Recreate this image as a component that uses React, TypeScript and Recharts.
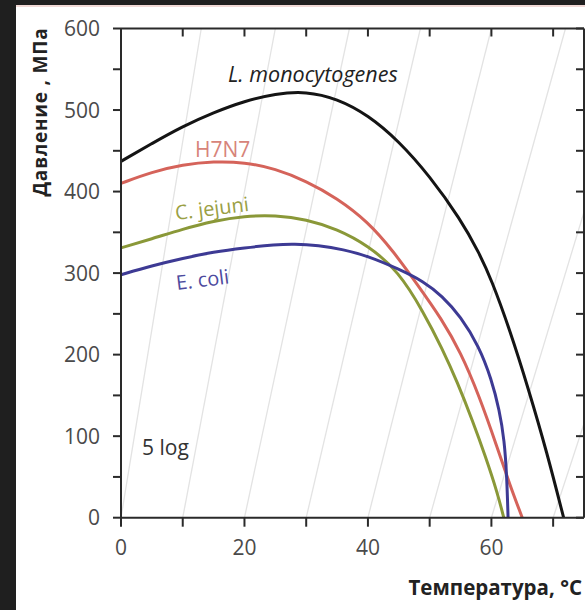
import { Line, LineChart, ReferenceLine, XAxis, YAxis } from 'recharts';

type Pt = { t: number; p: number };

// Температура, °C → давление, МПа (5 log инактивации)
const listeria: Pt[] = [
    { t: 0, p: 437 }, { t: 5, p: 459 }, { t: 10, p: 480 }, { t: 15, p: 497 },
    { t: 20, p: 511 }, { t: 25, p: 520 }, { t: 30, p: 523 }, { t: 35, p: 514 },
    { t: 40, p: 494 }, { t: 45, p: 462 }, { t: 50, p: 419 }, { t: 55, p: 366 },
    { t: 58, p: 325 }, { t: 60, p: 292 }, { t: 63, p: 230 }, { t: 66, p: 158 },
    { t: 69, p: 80 }, { t: 71.7, p: 0 },
];

const h7n7: Pt[] = [
    { t: 0, p: 410 }, { t: 5, p: 424 }, { t: 10, p: 433 }, { t: 15, p: 437 },
    { t: 20, p: 436 }, { t: 25, p: 428 }, { t: 30, p: 413 }, { t: 35, p: 392 },
    { t: 40, p: 363 }, { t: 44, p: 328 }, { t: 48, p: 286 }, { t: 52, p: 243 },
    { t: 55, p: 203 }, { t: 58, p: 150 }, { t: 61, p: 85 }, { t: 63, p: 40 },
    { t: 65, p: 0 },
];

const jejuni: Pt[] = [
    { t: 0, p: 331 }, { t: 5, p: 342 }, { t: 10, p: 354 }, { t: 15, p: 364 },
    { t: 20, p: 370 }, { t: 25, p: 371 }, { t: 30, p: 366 }, { t: 35, p: 354 },
    { t: 40, p: 334 }, { t: 45, p: 302 }, { t: 49, p: 252 }, { t: 52, p: 208 },
    { t: 54.5, p: 166 }, { t: 57, p: 118 }, { t: 59, p: 76 }, { t: 61, p: 30 },
    { t: 62, p: 0 },
];

const ecoli: Pt[] = [
    { t: 0, p: 298 }, { t: 5, p: 309 }, { t: 10, p: 318 }, { t: 15, p: 326 },
    { t: 20, p: 331 }, { t: 25, p: 335 }, { t: 28, p: 336 }, { t: 32, p: 334 },
    { t: 36, p: 329 }, { t: 40, p: 321 }, { t: 45, p: 305 }, { t: 49, p: 290 },
    { t: 52, p: 272 }, { t: 55, p: 247 }, { t: 58, p: 210 }, { t: 60, p: 170 },
    { t: 61.3, p: 132 }, { t: 62.1, p: 95 }, { t: 62.5, p: 50 }, { t: 62.7, p: 0 },
];

const tempTicks = [0, 10, 20, 30, 40, 50, 60, 70];
const pressureTicks = [0, 50, 100, 150, 200, 250, 300, 350, 400, 450, 500, 550, 600];

// бледные наклонные изолинии на фоне: температура внизу и вверху графика
const isoBottom = [0, 10, 20, 30, 40, 50, 60, 70];
const isoTop = [13, 25, 37, 48.5, 60, 72, 84, 96];

const FONT = '"Open Sans", "Liberation Sans", sans-serif';
const AXIS = '#2a2a2a';

function TempTick({ x, y, payload }: any) {
    if (payload.value % 20 !== 0) return <g />;
    return (
        <text x={x} y={y} dy="0.72em" textAnchor="middle" fontSize={21} fill="#4a4a4a" fontFamily={FONT}>
            {payload.value}
        </text>
    );
}

function PressureTick({ x, y, payload }: any) {
    if (payload.value % 100 !== 0) return <g />;
    return (
        <text x={x} y={y} dy="0.36em" textAnchor="end" fontSize={21} fill="#4a4a4a" fontFamily={FONT}>
            {payload.value}
        </text>
    );
}

const NoLabel = () => <g />;

export default function App() {
    return (
        <div style={{ position: 'absolute', left: 0, top: 0, width: 585, height: 610, background: '#1f1f1f' }}>
            <div
                style={{
                    position: 'absolute',
                    left: 16,
                    top: 5,
                    right: 0,
                    bottom: 0,
                    background: '#fff',
                    borderTop: '2px solid #f1d9d6',
                }}
            />
            <div style={{ position: 'absolute', left: 0, top: 0 }}>
                <LineChart width={585} height={610} margin={{ top: 28.5, right: 1, bottom: 52.3, left: 61 }}>
                    <XAxis
                        xAxisId="b"
                        dataKey="t"
                        type="number"
                        domain={[0, 75]}
                        ticks={tempTicks}
                        height={40}
                        tickSize={9}
                        tickMargin={13}
                        tick={<TempTick />}
                        axisLine={{ stroke: AXIS, strokeWidth: 2 }}
                        tickLine={{ stroke: AXIS, strokeWidth: 2 }}
                    />
                    <XAxis
                        xAxisId="top"
                        dataKey="t"
                        orientation="top"
                        type="number"
                        domain={[0, 75]}
                        ticks={tempTicks}
                        height={1}
                        mirror
                        tickSize={8}
                        tick={<NoLabel />}
                        axisLine={{ stroke: AXIS, strokeWidth: 2 }}
                        tickLine={{ stroke: AXIS, strokeWidth: 2 }}
                    />
                    <YAxis
                        yAxisId="l"
                        type="number"
                        domain={[0, 600]}
                        ticks={pressureTicks}
                        width={60}
                        tickSize={8}
                        tickMargin={13}
                        tick={<PressureTick />}
                        axisLine={{ stroke: AXIS, strokeWidth: 2 }}
                        tickLine={{ stroke: AXIS, strokeWidth: 2 }}
                    />
                    <YAxis
                        yAxisId="r"
                        orientation="right"
                        type="number"
                        domain={[0, 600]}
                        ticks={pressureTicks}
                        width={1}
                        mirror
                        tickSize={8}
                        tick={<NoLabel />}
                        axisLine={{ stroke: AXIS, strokeWidth: 2 }}
                        tickLine={{ stroke: AXIS, strokeWidth: 2 }}
                    />
                    {isoBottom.map((b, i) => (
                        <ReferenceLine
                            key={b}
                            xAxisId="b"
                            yAxisId="l"
                            segment={[{ x: b, y: 0 }, { x: isoTop[i], y: 600 }]}
                            stroke="#e3e3e3"
                            strokeWidth={1.3}
                            ifOverflow="hidden"
                        />
                    ))}
                    {/* невидимая серия, чтобы у верхней и правой осей были шкалы */}
                    <Line data={listeria} dataKey="p" xAxisId="top" yAxisId="r" stroke="none" dot={false} isAnimationActive={false} />
                    <Line data={listeria} dataKey="p" xAxisId="b" yAxisId="l" type="basis" stroke="#141414" strokeWidth={3} dot={false} isAnimationActive={false} />
                    <Line data={h7n7} dataKey="p" xAxisId="b" yAxisId="l" type="basis" stroke="#d5635a" strokeWidth={3} dot={false} isAnimationActive={false} />
                    <Line data={jejuni} dataKey="p" xAxisId="b" yAxisId="l" type="basis" stroke="#8a9838" strokeWidth={3} dot={false} isAnimationActive={false} />
                    <Line data={ecoli} dataKey="p" xAxisId="b" yAxisId="l" type="basis" stroke="#3d3a94" strokeWidth={3} dot={false} isAnimationActive={false} />
                </LineChart>
            </div>
            <svg width={585} height={610} style={{ position: 'absolute', left: 0, top: 0, pointerEvents: 'none' }} fontFamily={FONT}>
                <text x={228} y={82} fontSize={21.5} fontStyle="italic" fill="#222">L. monocytogenes</text>
                <text x={195} y={157} fontSize={21} fill="#d7847a">H7N7</text>
                <text x={176} y={220} fontSize={20} fill="#9aa044" transform="rotate(-7 176 220)">C. jejuni</text>
                <text x={177} y={290} fontSize={20} fill="#4d4a9e" transform="rotate(-7 177 290)">E. coli</text>
                <text x={142} y={455} fontSize={21} fill="#333">5 log</text>
                <text
                    x={40}
                    y={112}
                    fontSize={19}
                    fontWeight="bold"
                    fill="#222"
                    letterSpacing={0.8}
                    textAnchor="middle"
                    dominantBaseline="central"
                    transform="rotate(-90 40 112)"
                >
                    Давление , МПа
                </text>
                <text x={582} y={595} fontSize={20.5} fontWeight="bold" fill="#222" textAnchor="end">
                    Температура, °C
                </text>
            </svg>
        </div>
    );
}
